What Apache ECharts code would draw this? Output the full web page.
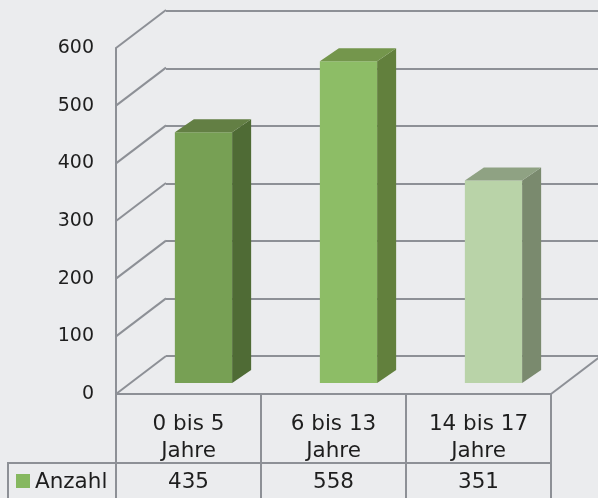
<!DOCTYPE html>
<html>
<head>
<meta charset="UTF-8">
<title>Anzahl</title>
<script src="https://cdn.jsdelivr.net/npm/echarts@6/dist/echarts.min.js"></script>
</head>
<body style="margin:0;background:#ebecee">
<div id="main" style="width:598px;height:498px;"></div>
<script type="text/javascript">
// Daten
var categories = ['0 bis 5\nJahre', '6 bis 13\nJahre', '14 bis 17\nJahre'];
var values = [435, 558, 351];
var seriesName = 'Anzahl';
var yTicks = [0, 100, 200, 300, 400, 500, 600];

// Farben je Balken: Vorderseite, Seite, Deckel
var frontColors = ['#77a054', '#8dbd66', '#b9d3a8'];
var sideColors = ['#4f6b35', '#62803d', '#7a8a6e'];
var topColors = ['#637f44', '#74964c', '#8fa283'];
var legendColor = '#86b860';

var lineColor = '#8d9096';
var textColor = '#1e1e1e';
var font = 'DejaVu Sans';
var back = [50, -38];   // Versatz der Rückwand

var myChart = echarts.init(document.getElementById('main'));

function renderBar(params, api) {
	var i = api.value(0), v = api.value(1);
	var base = api.coord([i, 0]), top = api.coord([i, v]);
	var bw = api.size([1, 0])[0] * 0.395;
	var x0 = base[0] + 15 - bw / 2, x1 = x0 + bw;
	var yb = base[1] - 11, yt = top[1] - 11;
	var dx = 19, dy = -13;
	return {
		type: 'group',
		children: [
			{type: 'rect', shape: {x: x0, y: yt, width: bw, height: yb - yt}, style: {fill: frontColors[i]}},
			{type: 'polygon', shape: {points: [[x1, yt], [x1 + dx, yt + dy], [x1 + dx, yb + dy], [x1, yb]]}, style: {fill: sideColors[i]}},
			{type: 'polygon', shape: {points: [[x0, yt], [x0 + dx, yt + dy], [x1 + dx, yt + dy], [x1, yt]]}, style: {fill: topColors[i]}}
		]
	};
}

function renderWall(params, api) {
	var cs = params.coordSys;
	var y = api.coord([0, api.value(1)])[1];
	var children = [
		{type: 'line', shape: {x1: cs.x, y1: y, x2: cs.x + back[0], y2: y + back[1]}, style: {stroke: lineColor, lineWidth: 2}}
	];
	if (api.value(1) === 0) {
		var xr = cs.x + cs.width;
		children.push({type: 'line', shape: {x1: xr, y1: y, x2: xr + back[0], y2: y + back[1]}, style: {stroke: lineColor, lineWidth: 2}});
	}
	return {type: 'group', children: children};
}

function renderTable(params, api) {
	var i = api.value(0);
	var p = api.coord([i, 0]);
	var bw = api.size([1, 0])[0];
	var xl = p[0] - bw / 2, y0 = p[1], y1 = y0 + 69;
	return {
		type: 'group',
		children: [
			{type: 'rect', shape: {x: xl, y: y0, width: bw, height: 69}, style: {fill: 'none', stroke: lineColor, lineWidth: 2}},
			{type: 'rect', shape: {x: xl, y: y1, width: bw, height: 60}, style: {fill: 'none', stroke: lineColor, lineWidth: 2}},
			{type: 'text', style: {text: categories[i], x: p[0], y: y0 + 44, align: 'center', verticalAlign: 'middle',
				fontSize: 21.5, fontFamily: font, lineHeight: 27, fill: textColor}},
			{type: 'text', style: {text: String(api.value(1)), x: p[0], y: y1 + 19, align: 'center', verticalAlign: 'middle',
				fontSize: 21.5, fontFamily: font, fill: textColor}}
		]
	};
}

var option = {
	backgroundColor: '#ebecee',
	animation: false,
	grid: [
		{left: 116, right: 47, top: 48, bottom: 104},
		{left: 166, right: 0, top: 11, bottom: 142}
	],
	xAxis: [
		{type: 'category', gridIndex: 0, data: categories, show: false},
		{type: 'category', gridIndex: 1, data: categories, show: false}
	],
	yAxis: [
		{
			type: 'value', gridIndex: 0, min: 0, max: 600, interval: 100,
			axisLine: {show: true, lineStyle: {color: lineColor, width: 2}},
			axisTick: {show: false},
			splitLine: {show: false},
			axisLabel: {margin: 22, fontSize: 19, fontFamily: font, color: textColor, padding: [7, 0, 0, 0]}
		},
		{
			type: 'value', gridIndex: 1, min: 0, max: 600, interval: 100,
			axisLine: {show: false},
			axisTick: {show: false},
			axisLabel: {show: false},
			splitLine: {show: true, lineStyle: {color: lineColor, width: 2}}
		}
	],
	graphic: [
		{type: 'rect', shape: {x: 8, y: 463, width: 108, height: 60}, style: {fill: 'none', stroke: lineColor, lineWidth: 2}},
		{type: 'rect', shape: {x: 16, y: 474, width: 14, height: 14}, style: {fill: legendColor}},
		{type: 'text', style: {text: seriesName, x: 35, y: 482, verticalAlign: 'middle', fontSize: 21.5, fontFamily: font, fill: textColor}}
	],
	series: [
		{
			type: 'custom', xAxisIndex: 0, yAxisIndex: 0,
			renderItem: renderWall,
			data: yTicks.map(function (t) { return [0, t]; }),
			z: 1
		},
		{
			type: 'custom', name: seriesName, xAxisIndex: 0, yAxisIndex: 0,
			renderItem: renderBar,
			data: values.map(function (v, i) { return [i, v]; }),
			z: 3
		},
		{
			type: 'custom', xAxisIndex: 0, yAxisIndex: 0,
			renderItem: renderTable,
			data: values.map(function (v, i) { return [i, v]; }),
			z: 4
		}
	]
};

myChart.setOption(option);
</script>
</body>
</html>
